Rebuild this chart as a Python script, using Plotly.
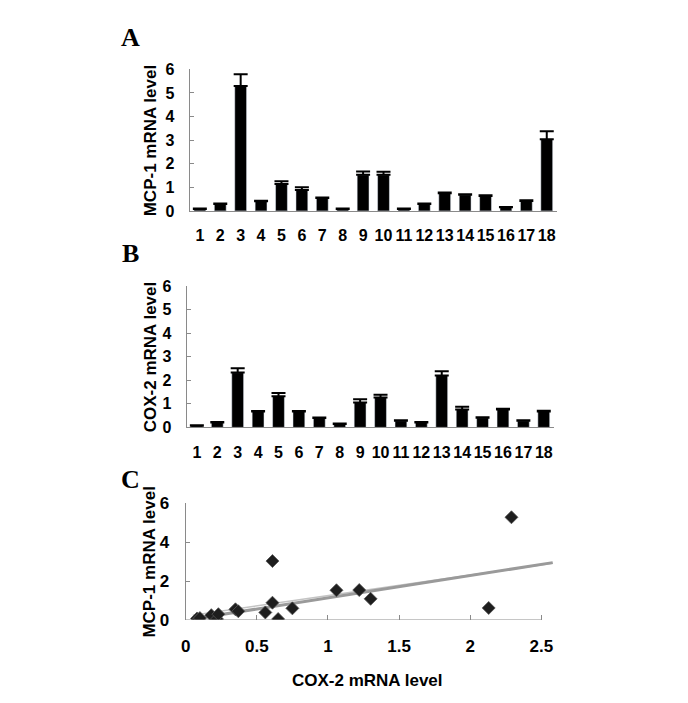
import plotly.graph_objects as go

# ---- data ----
samples = [str(i) for i in range(1, 19)]
mcp1 = [0.08, 0.29, 5.29, 0.41, 1.14, 0.89, 0.55, 0.08, 1.53, 1.53, 0.08, 0.29, 0.75, 0.68, 0.63, 0.15, 0.42, 3.04]
mcp1_err = [0.02, 0.02, 0.50, 0.02, 0.12, 0.11, 0.02, 0.02, 0.14, 0.13, 0.02, 0.02, 0.03, 0.03, 0.03, 0.02, 0.03, 0.33]
cox2 = [0.07, 0.21, 2.33, 0.68, 1.32, 0.68, 0.40, 0.14, 1.06, 1.27, 0.28, 0.21, 2.21, 0.76, 0.41, 0.76, 0.28, 0.68]
cox2_err = [0.02, 0.02, 0.18, 0.02, 0.14, 0.02, 0.02, 0.02, 0.14, 0.12, 0.02, 0.02, 0.18, 0.12, 0.02, 0.03, 0.02, 0.03]

scatter_cox2 = [0.08, 0.09, 0.18, 0.22, 0.23, 0.35, 0.37, 0.56, 0.61, 0.61, 0.65, 0.75, 1.06, 1.22, 1.30, 2.13, 2.29, 0.10]
scatter_mcp1 = [0.08, 0.03, 0.25, 0.05, 0.30, 0.55, 0.45, 0.39, 0.89, 3.03, 0.05, 0.60, 1.53, 1.54, 1.09, 0.62, 5.28, 0.10]

trend_x = [0.05, 2.58]
trend_y = [0.05, 2.95]
trend2_y = [0.25, 2.92]

y_ticks = [0, 1, 2, 3, 4, 5, 6]
c_xticks = [0, 0.5, 1, 1.5, 2, 2.5]
c_xlabels = ["0", "0.5", "1", "1.5", "2", "2.5"]
c_yticks = [0, 2, 4, 6]

W, H = 688, 703
def px(x):
    return x / W
def py(y):
    return 1 - y / H

tickfont = dict(family="Liberation Sans, Arial", size=16, color="black", weight="bold")
tickfont_c = dict(family="Liberation Sans, Arial", size=17, color="black", weight="bold")
titlefont = dict(family="Liberation Sans, Arial", size=17, color="black", weight="bold")
axcol = "#8a8a8a"

fig = go.Figure()

# Panel A
fig.add_trace(go.Bar(x=list(range(1, 19)), y=mcp1, marker_color="black", width=0.58,
                     error_y=dict(type="data", array=mcp1_err, arrayminus=[0]*18, symmetric=False,
                                  color="black", thickness=2, width=7),
                     xaxis="x", yaxis="y", showlegend=False))
# Panel B
fig.add_trace(go.Bar(x=list(range(1, 19)), y=cox2, marker_color="black", width=0.58,
                     error_y=dict(type="data", array=cox2_err, arrayminus=[0]*18, symmetric=False,
                                  color="black", thickness=2, width=7),
                     xaxis="x2", yaxis="y2", showlegend=False))
# Panel C
fig.add_trace(go.Scatter(x=trend_x, y=trend2_y, mode="lines", line=dict(color="#c4c4c4", width=1.5),
                         xaxis="x3", yaxis="y3", showlegend=False))
fig.add_trace(go.Scatter(x=trend_x, y=trend_y, mode="lines", line=dict(color="#9a9a9a", width=3),
                         xaxis="x3", yaxis="y3", showlegend=False))
fig.add_trace(go.Scatter(x=scatter_cox2, y=scatter_mcp1, mode="markers",
                         marker=dict(symbol="diamond", size=10, color="#1e1e1e",
                                     line=dict(color="#555555", width=0.8)),
                         xaxis="x3", yaxis="y3", showlegend=False))

bar_x = dict(range=[0.5, 18.5], tickmode="array", tickvals=list(range(1, 19)), ticktext=samples,
             tickangle=0, showline=True, linecolor=axcol, linewidth=1, ticks="", tickfont=tickfont,
             showgrid=False, zeroline=False, ticklabelstandoff=10, fixedrange=True)
bar_y = dict(range=[0, 6], tickvals=y_ticks, showline=True, linecolor=axcol, linewidth=1,
             ticks="inside", ticklen=4, tickcolor=axcol, tickfont=tickfont,
             showgrid=False, zeroline=False, ticklabelstandoff=11)

fig.update_layout(
    width=W, height=H, margin=dict(l=0, r=0, t=0, b=0),
    plot_bgcolor="white", paper_bgcolor="white", bargap=0.4,
    xaxis=dict(domain=[px(186), px(556)], anchor="y", **bar_x),
    yaxis=dict(domain=[py(207.5), py(62)], anchor="x", **bar_y),
    xaxis2=dict(domain=[px(183), px(553)], anchor="y2", **bar_x),
    yaxis2=dict(domain=[py(430), py(285)], anchor="x2", **bar_y),
    xaxis3=dict(domain=[px(182), px(182 + 2.6 * 143.3)], anchor="y3", range=[0, 2.6],
                tickvals=c_xticks, ticktext=c_xlabels, tickangle=0,
                showline=False, ticks="inside", ticklen=5, tickcolor=axcol,
                tickfont=tickfont_c, showgrid=False, zeroline=False, ticklabelstandoff=14),
    yaxis3=dict(domain=[py(628), py(508)], anchor="x3", range=[0, 6], tickvals=c_yticks,
                showline=True, linecolor=axcol, linewidth=1, ticks="inside", ticklen=4,
                tickcolor=axcol, tickfont=tickfont_c, showgrid=False, zeroline=False,
                ticklabelstandoff=12),
    shapes=[dict(type="line", xref="x3", yref="y3", x0=0, x1=2.5, y0=0, y1=0,
                 line=dict(color=axcol, width=1))],
)

letterfont = dict(family="Liberation Serif, Times New Roman", size=26, color="black", weight="bold")
for txt, x, y in [("A", 126, 29), ("B", 126, 251), ("C", 126, 484)]:
    fig.add_annotation(text=txt, x=px(x), y=py(y), xref="paper", yref="paper",
                       showarrow=False, font=letterfont, xanchor="center", yanchor="middle")

for txt, x, y in [("MCP-1 mRNA level", 146, 135), ("COX-2 mRNA level", 146, 357),
                  ("MCP-1 mRNA level", 146, 568)]:
    fig.add_annotation(text=txt, x=px(x), y=py(y), xref="paper", yref="paper", showarrow=False,
                       textangle=-90, font=titlefont, xanchor="center", yanchor="middle")

fig.add_annotation(text="COX-2 mRNA level", x=px(365), y=py(690), xref="paper", yref="paper",
                   showarrow=False, font=titlefont, xanchor="center", yanchor="middle")

fig.write_html("out.html", config={"displayModeBar": False},
               post_script="document.body.style.margin='0';document.body.style.overflow='hidden';")
